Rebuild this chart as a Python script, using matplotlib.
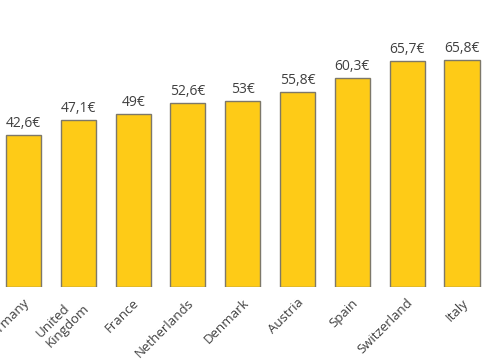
import numpy as np
import matplotlib.pyplot as plt
from matplotlib.transforms import ScaledTranslation

# data
countries = ['Germany', 'United\nKingdom', 'France', 'Netherlands', 'Denmark',
             'Austria', 'Spain', 'Switzerland', 'Italy']
prices = [42.6, 47.1, 49, 52.6, 53, 55.8, 60.3, 65.7, 65.8]
price_labels = ['42,6€', '47,1€', '49€', '52,6€', '53€', '55,8€', '60,3€', '65,7€', '65,8€']

base = -5  # bars start below zero in the original

plt.rcParams['font.family'] = ['Open Sans', 'DejaVu Sans']

fig = plt.figure(figsize=(4.85, 3.6), dpi=100)
ax = fig.add_axes([0, 0.2028, 1, 0.7972])

x = np.arange(len(countries))
heights = np.array(prices) - base
bars = ax.bar(x, heights, bottom=base, width=0.64, color='#FECB17',
              edgecolor='#7d7869', linewidth=1)

for xi, p, lab in zip(x, prices, price_labels):
    ax.annotate(lab, (xi, p), xytext=(0, 3), textcoords='offset points',
                ha='center', va='bottom', fontsize=10, color='#404040')

ax.set_xlim(-0.429, 8.42)
ax.set_ylim(base, 84.7)
ax.set_xticks(x)
ax.set_xticklabels(countries, rotation=45, ha='right', va='center',
                   rotation_mode='anchor', multialignment='left',
                   fontsize=9.5, color='#404040', linespacing=1.1)
ax.tick_params(axis='x', length=0, pad=10)
# nudge the rotated labels a bit to the right
shift = ScaledTranslation(4 / 100, 0, fig.dpi_scale_trans)
for t in ax.get_xticklabels():
    t.set_transform(t.get_transform() + shift)
ax.set_yticks([])
for s in ax.spines.values():
    s.set_visible(False)

fig.savefig('out.png', dpi=100)
